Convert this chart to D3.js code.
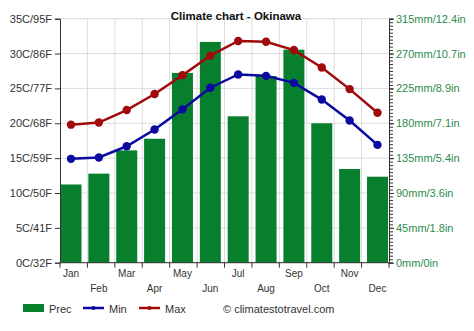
<!DOCTYPE html>
<html>
<head>
<meta charset="utf-8">
<script src="https://cdn.jsdelivr.net/npm/d3@7"></script>
<style>
  html, body { margin: 0; padding: 0; background: #fff; }
  svg { display: block; font-family: "Liberation Sans", Arial, sans-serif; }
</style>
</head>
<body>
<svg id="chart" width="474" height="331"></svg>
<script>
// Monthly climate data for Okinawa
const months = ["Jan","Feb","Mar","Apr","May","Jun","Jul","Aug","Sep","Oct","Nov","Dec"];
const precip = [101, 115, 145, 160, 245, 285, 189, 241, 275, 180, 121, 111];
const tMin   = [14.9, 15.1, 16.7, 19.1, 22.0, 25.1, 27.0, 26.8, 25.8, 23.4, 20.4, 16.9];
const tMax   = [19.8, 20.1, 21.9, 24.2, 26.9, 29.7, 31.8, 31.7, 30.5, 28.0, 24.9, 21.5];
const tempTicks = [0, 5, 10, 15, 20, 25, 30, 35];
const tempTickLabels = ["0C/32F","5C/41F","10C/50F","15C/59F","20C/68F","25C/77F","30C/86F","35C/95F"];
const precTicks = [0, 45, 90, 135, 180, 225, 270, 315];
const precTickLabels = ["0mm/0in","45mm/1.8in","90mm/3.6in","135mm/5.4in","180mm/7.1in","225mm/8.9in","270mm/10.7in","315mm/12.4in"];

const colPrec = "#087f2c", colMin = "#0a0aa0", colMax = "#a00a0a";
const svg = d3.select("#chart");

const plotL = 60, plotR = 389, plotT = 18.7, plotB = 262.7;

const x = d3.scalePoint().domain(months).range([71, 377.5]);
const xb = d3.scaleLinear().domain([0, 12]).range([plotL, plotR]);
const yT = d3.scaleLinear().domain([0, 35]).range([plotB, plotT]);
const yP = d3.scaleLinear().domain([0, 315]).range([plotB, plotT]);

// grid
const grid = svg.append("g").attr("stroke", "#dcdcdc").attr("stroke-width", 1);
tempTicks.forEach(t => grid.append("line")
  .attr("x1", plotL).attr("x2", plotR).attr("y1", yT(t)).attr("y2", yT(t)));
d3.range(1, 12).forEach(i => grid.append("line")
  .attr("x1", xb(i)).attr("x2", xb(i)).attr("y1", plotT).attr("y2", plotB));

// precipitation bars
const bw = 21;
svg.append("g").selectAll("rect").data(precip).join("rect")
  .attr("x", (d, i) => x(months[i]) - bw / 2)
  .attr("width", bw)
  .attr("y", d => yP(d))
  .attr("height", d => yP(0) - yP(d))
  .attr("fill", colPrec);

// left axis
const axL = svg.append("g").attr("transform", `translate(${plotL},0)`)
  .call(d3.axisLeft(yT).tickValues(tempTicks).tickSize(5).tickPadding(3)
    .tickFormat((d, i) => tempTickLabels[i]));
axL.select(".domain").attr("stroke", "#333");
axL.selectAll(".tick line").attr("stroke", "#333");
axL.selectAll("text").attr("fill", "#333").style("font-size", "11px")
  .style("font-family", "'Liberation Sans', Arial, sans-serif");

// right axis with minor ticks
const minor = d3.range(0, 315.01, 4.5);
const axRm = svg.append("g").attr("transform", `translate(${plotR},0)`)
  .call(d3.axisRight(yP).tickValues(minor).tickSize(4).tickFormat(""));
axRm.select(".domain").attr("stroke", "#333");
axRm.selectAll(".tick line").attr("stroke", "#333");
const axR = svg.append("g").attr("transform", `translate(${plotR},0)`)
  .call(d3.axisRight(yP).tickValues(precTicks).tickSize(5).tickPadding(2)
    .tickFormat((d, i) => precTickLabels[i]));
axR.select(".domain").remove();
axR.selectAll(".tick line").attr("stroke", "#333");
axR.selectAll("text").attr("fill", "#2e8b4e").style("font-size", "11px")
  .style("font-family", "'Liberation Sans', Arial, sans-serif");

// bottom axis
const axB = svg.append("g").attr("transform", `translate(0,${plotB})`);
axB.append("line").attr("x1", plotL).attr("x2", plotR).attr("stroke", "#333");
d3.range(0, 13).forEach(i => axB.append("line")
  .attr("x1", xb(i)).attr("x2", xb(i)).attr("y1", 0).attr("y2", 5).attr("stroke", "#333"));
axB.selectAll("text.m").data(months).join("text")
  .attr("class", "m")
  .attr("x", d => x(d))
  .attr("y", (d, i) => i % 2 === 0 ? 14 : 29)
  .attr("text-anchor", "middle")
  .attr("fill", "#333").style("font-size", "10px")
  .text(d => d);

// temperature lines
const line = d3.line().x((d, i) => x(months[i])).y(d => yT(d));
[[tMin, colMin], [tMax, colMax]].forEach(([data, col]) => {
  svg.append("path").datum(data).attr("d", line)
    .attr("fill", "none").attr("stroke", col).attr("stroke-width", 2.5);
  svg.append("g").selectAll("circle").data(data).join("circle")
    .attr("cx", (d, i) => x(months[i])).attr("cy", d => yT(d))
    .attr("r", 4.2).attr("fill", col);
});

// title
svg.append("text").attr("x", 236).attr("y", 20).attr("text-anchor", "middle")
  .style("font-size", "11.5px").style("font-weight", "bold").attr("fill", "#111")
  .text("Climate chart - Okinawa");

// legend
const lg = svg.append("g").attr("transform", "translate(0,309)");
lg.append("rect").attr("x", 23).attr("y", -5).attr("width", 21).attr("height", 8).attr("fill", colPrec);
lg.append("text").attr("x", 49).attr("y", 3.5).text("Prec");
lg.append("line").attr("x1", 83).attr("x2", 104).attr("y1", -1).attr("y2", -1).attr("stroke", colMin).attr("stroke-width", 2.5);
lg.append("circle").attr("cx", 93.5).attr("cy", -1).attr("r", 2).attr("fill", colMin);
lg.append("text").attr("x", 109).attr("y", 3.5).text("Min");
lg.append("line").attr("x1", 139).attr("x2", 160).attr("y1", -1).attr("y2", -1).attr("stroke", colMax).attr("stroke-width", 2.5);
lg.append("circle").attr("cx", 149.5).attr("cy", -1).attr("r", 2).attr("fill", colMax);
lg.append("text").attr("x", 165).attr("y", 3.5).text("Max");
lg.append("text").attr("x", 223).attr("y", 3.5).text("© climatestotravel.com");
lg.selectAll("text").attr("fill", "#333").style("font-size", "11px");
</script>
</body>
</html>
